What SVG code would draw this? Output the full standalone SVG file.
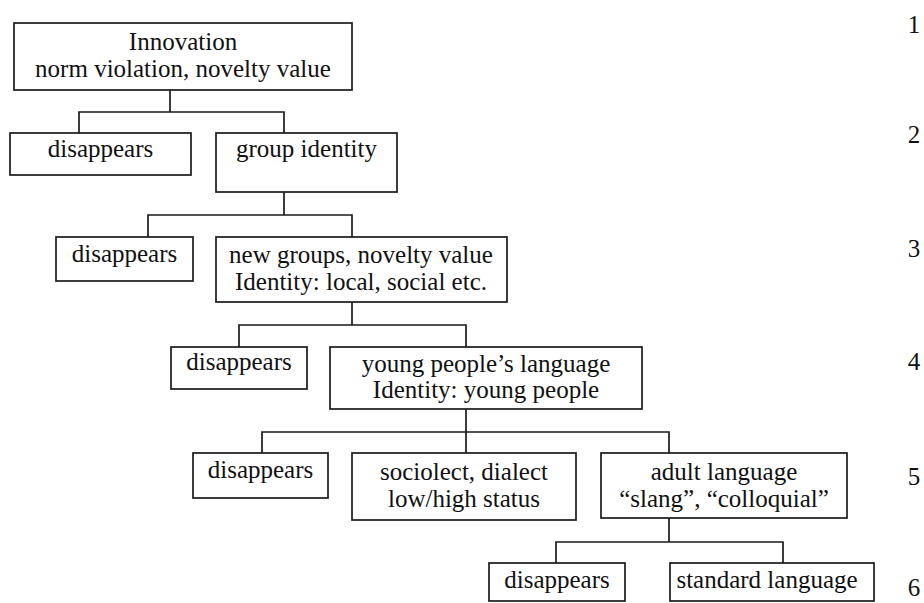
<svg xmlns="http://www.w3.org/2000/svg" width="924" height="603" viewBox="0 0 924 603">
<style>
rect.box{fill:#fff;stroke:#1a1a1a;stroke-width:1.7}
text{font-family:"Liberation Serif","Times New Roman",serif;font-size:25px;fill:#111;text-anchor:middle}
.conn path{fill:none;stroke:#1a1a1a;stroke-width:1.7}
</style>
<rect width="924" height="603" fill="#fff"/>
<g class="conn" id="connectors">
<path d="M170,90V112M79,133V112H284V133"/>
<path d="M284,192V215M148,237V215H352V237"/>
<path d="M352,302V325M239,347V325H466V347"/>
<path d="M466,409V453M262,453V432H669V453"/>
<path d="M669,518V542M556,563V542H783V563"/>
</g>
<g id="n1"><rect class="box" x="14" y="23" width="338" height="67"/><text x="183" y="50">Innovation</text><text x="183" y="77">norm violation, novelty value</text></g>
<g id="n2a"><rect class="box" x="10" y="133" width="181" height="42"/><text x="100.5" y="157">disappears</text></g>
<g id="n2b"><rect class="box" x="216" y="133" width="181" height="59"/><text x="306.5" y="157">group identity</text></g>
<g id="n3a"><rect class="box" x="56" y="237" width="137" height="44"/><text x="124.5" y="262">disappears</text></g>
<g id="n3b"><rect class="box" x="216" y="237" width="291" height="65"/><text x="361" y="263">new groups, novelty value</text><text x="361" y="290">Identity: local, social etc.</text></g>
<g id="n4a"><rect class="box" x="171" y="347" width="136" height="42"/><text x="239" y="370">disappears</text></g>
<g id="n4b"><rect class="box" x="330" y="347" width="312" height="62"/><text x="486" y="372">young people’s language</text><text x="486" y="398">Identity: young people</text></g>
<g id="n5a"><rect class="box" x="193" y="453" width="135" height="45"/><text x="260.5" y="478">disappears</text></g>
<g id="n5b"><rect class="box" x="352" y="453" width="224" height="67"/><text x="464" y="480">sociolect, dialect</text><text x="464" y="507">low/high status</text></g>
<g id="n5c"><rect class="box" x="601" y="453" width="246" height="65"/><text x="724" y="480">adult language</text><text x="724" y="507">“slang”, “colloquial”</text></g>
<g id="n6a"><rect class="box" x="489" y="563" width="136" height="38"/><text x="557" y="588">disappears</text></g>
<g id="n6b"><rect class="box" x="670" y="563" width="204" height="38"/><text x="767" y="588">standard language</text></g>
<g id="levels">
<text x="914" y="33">1</text>
<text x="914" y="143">2</text>
<text x="914" y="257">3</text>
<text x="914" y="370">4</text>
<text x="914" y="485">5</text>
<text x="914" y="596">6</text>
</g>
</svg>
